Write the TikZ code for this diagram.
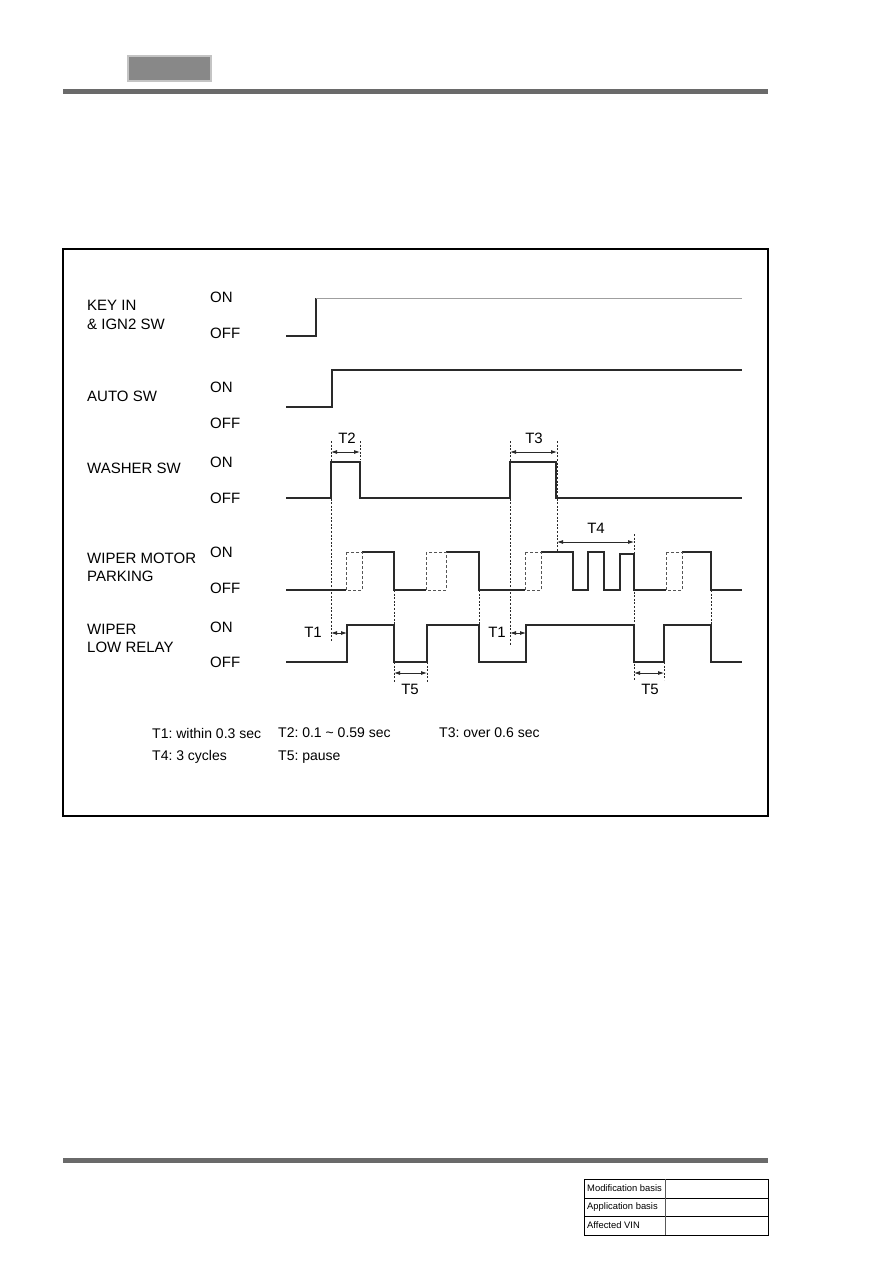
\documentclass[tikz,border=0pt]{standalone}
\usepackage{fontspec}
\setmainfont{Liberation Sans}
\frenchspacing
\usetikzlibrary{arrows.meta}
\definecolor{sig}{HTML}{2A2A2A}
\definecolor{rulegray}{HTML}{6A6A6A}
\definecolor{hdrfill}{HTML}{888888}
\definecolor{hdredge}{HTML}{C4C4C4}
\begin{document}
\begin{tikzpicture}[x=1pt,y=-1pt,
  sigline/.style={draw=sig,line width=1.5pt,line join=miter},
  thinsig/.style={draw=gray!75,line width=1pt},
  dashsig/.style={draw=sig!80,line width=0.9pt,dash pattern=on 3pt off 2pt},
  guide/.style={draw=sig,line width=0.8pt,dash pattern=on 2pt off 1.6pt},
  dim/.style={draw=sig,line width=0.8pt,{Latex[length=6pt,width=4pt]}-{Latex[length=6pt,width=4pt]}},
  lbl/.style={anchor=west,inner sep=0pt,font=\fontsize{15}{16}\selectfont},
  state/.style={anchor=west,inner sep=0pt,font=\fontsize{15}{16}\selectfont},
  tlab/.style={inner sep=0pt,font=\fontsize{15}{16}\selectfont},
  legend/.style={anchor=west,inner sep=0pt,font=\fontsize{14}{16}\selectfont},
  tabtxt/.style={anchor=west,inner sep=0pt,font=\fontsize{9.4}{10}\selectfont}]
\useasboundingbox (0,0) rectangle (893,1263);
\fill[white] (0,0) rectangle (893,1263);
% header
\filldraw[fill=hdrfill,draw=hdredge,line width=1.5pt] (128,56) rectangle (211,81);
\fill[rulegray] (63,89) rectangle (768,94);
% footer
\fill[rulegray] (63,1158) rectangle (768,1163);
\draw[line width=1pt,black] (584,1179) rectangle (768,1235);
\draw[line width=1pt,black] (584,1198) -- (768,1198);
\draw[line width=1pt,black] (584,1216) -- (768,1216);
\draw[line width=1.2pt,gray!70!black] (665.5,1179) -- (665.5,1235);
\node[tabtxt] (mb) at (587,1188.5) {Modification basis};
\node[tabtxt] (ab) at (587,1207) {Application basis};
\node[tabtxt] (av) at (587,1225.5) {Affected VIN};
% frame
\draw[line width=1.5pt,black] (63,249) rectangle (768,816);
% labels
\node[lbl] (l1a) at (87,305.5) {KEY IN};
\node[lbl] (l1b) at (87,324) {\& IGN2 SW};
\node[lbl] (l2) at (87,396.5) {AUTO SW};
\node[lbl] (l3) at (87,468.5) {WASHER SW};
\node[lbl] (l4a) at (87,558) {WIPER MOTOR};
\node[lbl] (l4b) at (87,576) {PARKING};
\node[lbl] (l5a) at (87,629.5) {WIPER};
\node[lbl] (l5b) at (87,647.5) {LOW RELAY};
\node[state] (on1) at (210,297) {ON};
\node[state] (off1) at (210,333) {OFF};
\node[state] (on2) at (210,387) {ON};
\node[state] (off2) at (210,423) {OFF};
\node[state] (on3) at (210,462) {ON};
\node[state] (off3) at (210,498) {OFF};
\node[state] (on4) at (210,552.5) {ON};
\node[state] (off4) at (210,588.5) {OFF};
\node[state] (on5) at (210,627) {ON};
\node[state] (off5) at (210,662.5) {OFF};
% KEY IN
\draw[sigline] (286,336) -- (316,336) -- (316,298);
\draw[thinsig] (316,298) -- (742,298);
% AUTO SW
\draw[sigline] (286,407) -- (332,407) -- (332,370) -- (742,370);
% WASHER SW
\draw[sigline] (286,498) -- (331,498) -- (331,462) -- (360,462) -- (360,498) -- (510,498) -- (510,462) -- (556,462) -- (556,498) -- (742,498);
% WIPER MOTOR PARKING
\draw[sigline] (286,590) -- (346,590);
\draw[sigline] (362,552) -- (394,552) -- (394,590) -- (426,590);
\draw[sigline] (446,552) -- (479,552) -- (479,590) -- (525,590);
\draw[sigline] (541,552) -- (573,552) -- (573,590) -- (588,590) -- (588,552) -- (604,552) -- (604,590) -- (620,590) -- (620,554) -- (634,554) -- (634,590) -- (666,590);
\draw[sigline] (682,552) -- (711,552) -- (711,590) -- (742,590);
\draw[dashsig] (346,552) rectangle (362,590);
\draw[dashsig] (426,552) rectangle (446,590);
\draw[dashsig] (525,552) rectangle (541,590);
\draw[dashsig] (666,552) rectangle (682,590);
% WIPER LOW RELAY
\draw[sigline] (286,662) -- (347,662) -- (347,625) -- (394,625) -- (394,662) -- (427,662) -- (427,625) -- (479,625) -- (479,662) -- (526,662) -- (526,625) -- (634,625) -- (634,662) -- (664,662) -- (664,625) -- (711,625) -- (711,662) -- (742,662);
% guide lines
\draw[guide] (331,441) -- (331,642);
\draw[guide] (360,441) -- (360,460);
\draw[guide] (510,441) -- (510,645);
\draw[guide] (557,441) -- (557,552);
\draw[guide] (394,590) -- (394,682);
\draw[guide] (427,662) -- (427,682);
\draw[guide] (479,590) -- (479,625);
\draw[guide] (634,534) -- (634,680);
\draw[guide] (664,662) -- (664,680);
\draw[guide] (711,590) -- (711,625);
% dimension arrows
\coordinate (t2a) at (331,452); \coordinate (t2b) at (360,452);
\coordinate (t3a) at (510,452); \coordinate (t3b) at (557,452);
\coordinate (t4a) at (557,542); \coordinate (t4b) at (634,542);
\coordinate (t1a) at (331,633); \coordinate (t1b) at (347,633);
\coordinate (t1c) at (510,633); \coordinate (t1d) at (526,633);
\coordinate (t5a) at (394,673); \coordinate (t5b) at (427,673);
\coordinate (t5c) at (634,673); \coordinate (t5d) at (664,673);
\draw[dim] (t2a) -- (t2b);
\draw[dim] (t3a) -- (t3b);
\draw[dim] (t4a) -- (t4b);
\draw[dim] (t1a) -- (t1b);
\draw[dim] (t1c) -- (t1d);
\draw[dim] (t5a) -- (t5b);
\draw[dim] (t5c) -- (t5d);
\node[tlab] (T2) at (347,438) {T2};
\node[tlab] (T3) at (534,438) {T3};
\node[tlab] (T4) at (596,528) {T4};
\node[tlab] (T1a) at (313,632) {T1};
\node[tlab] (T1b) at (497,632) {T1};
\node[tlab] (T5a) at (410,689) {T5};
\node[tlab] (T5b) at (650,689) {T5};
% legend
\node[legend] (g1) at (152,733) {T1: within 0.3 sec};
\node[legend] (g2) at (278,733) {T2: 0.1 \textasciitilde{} 0.59 sec};
\node[legend] (g3) at (439,733) {T3: over 0.6 sec};
\node[legend] (g4) at (152,757) {T4: 3 cycles};
\node[legend] (g5) at (278,757) {T5: pause};
\end{tikzpicture}
\end{document}
